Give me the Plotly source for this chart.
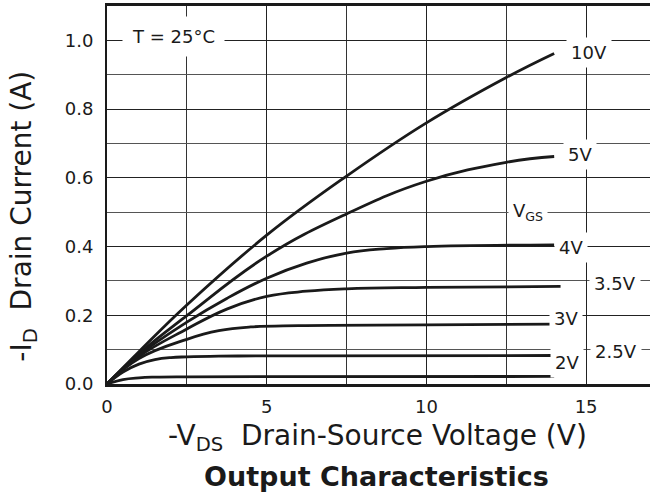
import plotly.graph_objects as go

# Data (-V_DS in volts, -I_D in amperes)
vds_10 = [0, 1, 2.5, 5, 7.5, 10, 12.5, 14]
id_10 = [0, 0.094, 0.230, 0.433, 0.605, 0.760, 0.892, 0.962]

vds_5 = [0, 1, 2.5, 5, 7.5, 10, 12.5, 14]
id_5 = [0, 0.088, 0.199, 0.372, 0.495, 0.590, 0.645, 0.662]

vds_4 = [0, 1, 2.5, 3.75, 5, 6.25, 7.5, 8.75, 10, 14]
id_4 = [0, 0.084, 0.180, 0.249, 0.308, 0.352, 0.381, 0.394, 0.400, 0.405]

vds_35 = [0, 1, 2.5, 3.75, 5, 6.25, 7.5, 10, 14.2]
id_35 = [0, 0.080, 0.160, 0.218, 0.255, 0.270, 0.277, 0.281, 0.284]

vds_3 = [0, 1, 2.5, 3.5, 4.5, 6, 10, 14]
id_3 = [0, 0.074, 0.130, 0.155, 0.166, 0.170, 0.172, 0.174]

vds_25 = [0, 0.5, 1, 1.5, 2, 2.5, 3.5, 6, 14]
id_25 = [0, 0.035, 0.058, 0.071, 0.077, 0.079, 0.081, 0.082, 0.083]

vds_2 = [0, 0.5, 1, 1.5, 2.5, 14]
id_2 = [0, 0.013, 0.018, 0.020, 0.021, 0.022]

series = [
    (vds_10, id_10), (vds_5, id_5), (vds_4, id_4), (vds_35, id_35),
    (vds_3, id_3), (vds_25, id_25), (vds_2, id_2),
]

# Curve labels: (text, x, y)
labels = [
    ("10V", 15.09, 0.966),
    ("5V", 14.81, 0.668),
    ("V<sub>GS</sub>", 13.18, 0.500),
    ("4V", 14.53, 0.397),
    ("3.5V", 15.90, 0.293),
    ("3V", 14.37, 0.191),
    ("2.5V", 15.94, 0.096),
    ("2V", 14.40, 0.063),
]

FONT = "DejaVu Sans"
INK = "#1a1a1a"

fig = go.Figure()
for x, y in series:
    fig.add_trace(go.Scatter(
        x=x, y=y, mode="lines",
        line=dict(color=INK, width=2.8, shape="spline", smoothing=1.2),
        showlegend=False, hoverinfo="skip",
    ))

annotations = []
for text, x, y in labels:
    annotations.append(dict(
        x=x, y=y, xref="x", yref="y", text=text, showarrow=False,
        xanchor="center", yanchor="middle",
        font=dict(family=FONT, size=18, color=INK),
        bgcolor="white", borderpad=4,
    ))

annotations.append(dict(
    x=2.08, y=1.012, xref="x", yref="y", text="T = 25°C", showarrow=False,
    xanchor="center", yanchor="middle",
    font=dict(family=FONT, size=18, color=INK),
    bgcolor="white", borderpad=9,
))

annotations.append(dict(
    x=0.499, y=-0.142, xref="paper", yref="paper",
    xanchor="center", yanchor="middle",
    text="-V<sub>DS</sub>  Drain-Source Voltage (V)", showarrow=False,
    font=dict(family=FONT, size=28, color=INK),
))
annotations.append(dict(
    x=-0.153, y=0.445, xref="paper", yref="paper",
    xanchor="center", yanchor="middle",
    text="-I<sub>D</sub>  Drain Current (A)", showarrow=False, textangle=-90,
    font=dict(family=FONT, size=28, color=INK),
))
annotations.append(dict(
    x=0.497, y=-0.244, xref="paper", yref="paper",
    xanchor="center", yanchor="middle",
    text="<b>Output Characteristics</b>", showarrow=False,
    font=dict(family=FONT, size=27, color=INK),
))

fig.update_layout(
    width=650, height=498,
    margin=dict(l=107, r=0, t=6, b=114),
    plot_bgcolor="white", paper_bgcolor="white",
    annotations=annotations,
    font=dict(family=FONT, color=INK),
)
fig.update_xaxes(
    range=[0, 17], tickvals=[0, 5, 10, 15], ticktext=["0", "5", "10", "15"],
    showgrid=True, gridcolor="#222", gridwidth=1.3,
    minor=dict(dtick=2.5, tick0=0, showgrid=True, gridcolor="#333", gridwidth=1.3),
    showline=True, linecolor=INK, linewidth=2.5, mirror=True,
    ticks="", ticklabelstandoff=5, tickfont=dict(family=FONT, size=18, color=INK),
    zeroline=False, fixedrange=True,
)
fig.update_yaxes(
    range=[0, 1.1], tickvals=[0, 0.2, 0.4, 0.6, 0.8, 1.0],
    ticktext=["0.0", "0.2", "0.4", "0.6", "0.8", "1.0"],
    showgrid=True, gridcolor="#222", gridwidth=1.3,
    minor=dict(dtick=0.1, tick0=0, showgrid=True, gridcolor="#555", gridwidth=1.3),
    showline=True, linecolor=INK, linewidth=2, mirror=False,
    ticks="", ticklabelstandoff=8, tickfont=dict(family=FONT, size=18, color=INK),
    zeroline=False, fixedrange=True,
)

fig.write_html("out.html", config=dict(displayModeBar=False))
